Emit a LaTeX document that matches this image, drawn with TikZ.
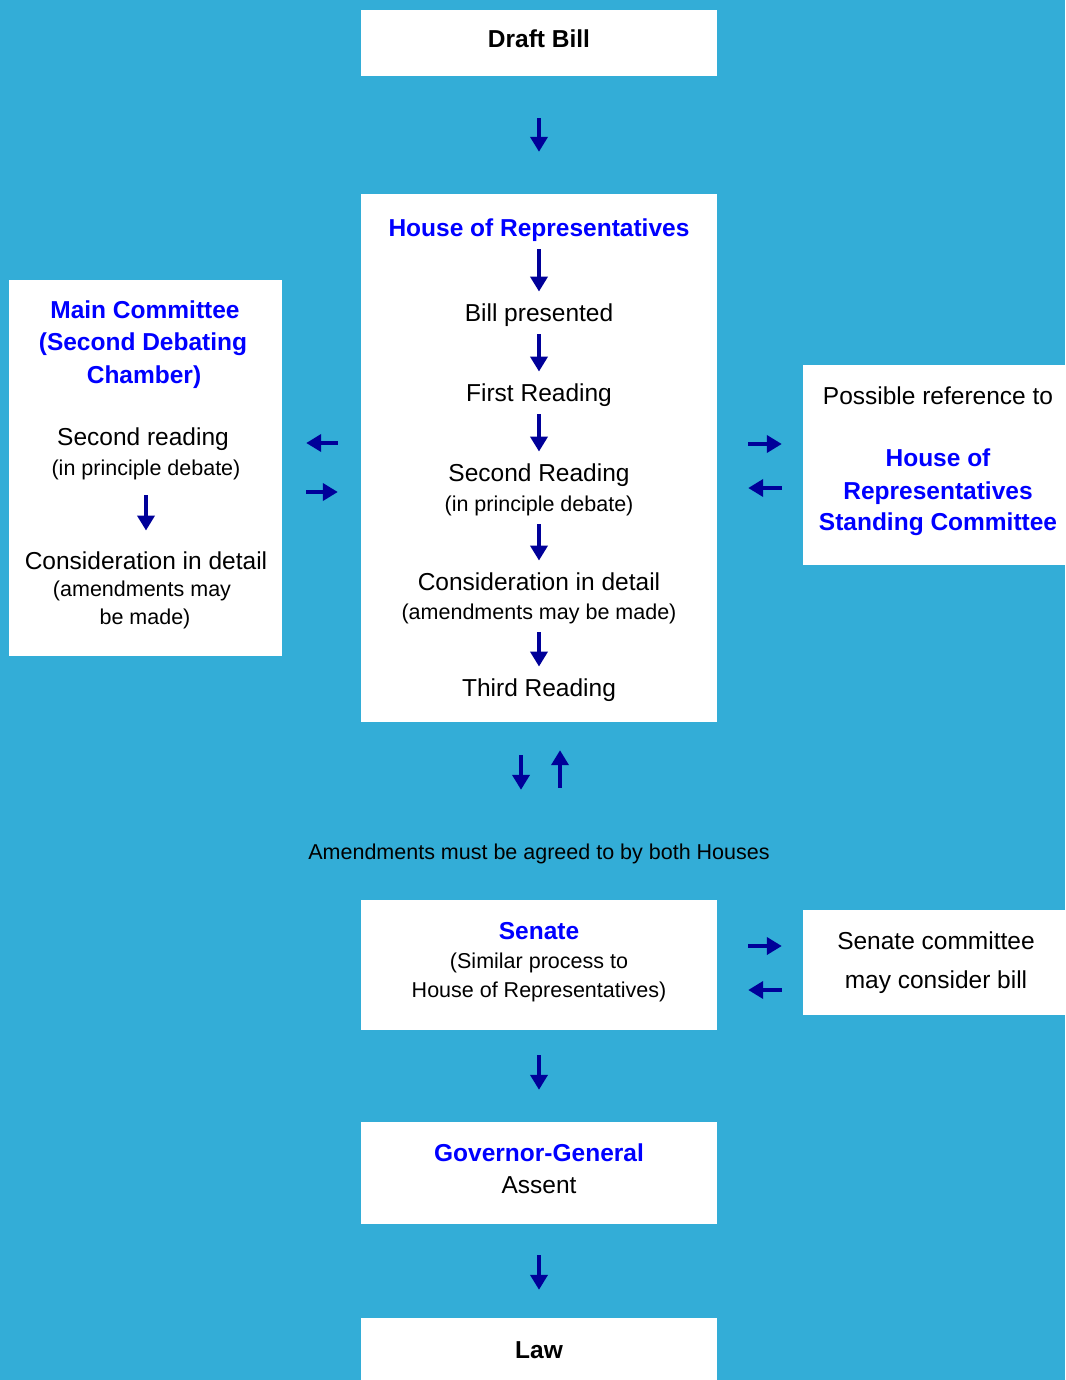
\documentclass[tikz,border=0pt]{standalone}
\usepackage{fontspec}
\setmainfont{Liberation Sans}
\usetikzlibrary{arrows.meta}
\definecolor{skyback}{RGB}{51,173,215}
\definecolor{headblue}{RGB}{0,0,255}
\definecolor{arrowblue}{RGB}{0,0,153}
\tikzset{
    box/.style={fill=white, inner sep=0pt},
    txt/.style={inner sep=0pt, text height=20pt, text depth=2.5pt, font=\fontsize{24.5}{28}\selectfont},
    sub/.style={txt, text height=17.5pt, text depth=2.2pt, font=\fontsize{21.5}{25}\selectfont},
    title/.style={txt, font=\fontsize{24.5}{28}\selectfont\bfseries},
    head/.style={title, text=headblue},
    flow/.style={arrowblue, line width=4.5pt, -{Triangle[width=17pt,length=15pt]}},
}

\begin{document}
\begin{tikzpicture}[x=1pt, y=-1pt]
    \useasboundingbox (0,0) rectangle (1065,1380);
    \fill[skyback] (0,0) rectangle (1065,1380);

    % boxes
    \node[box, minimum width=356pt, minimum height=66pt] (draftbox) at (539,43) {};
    \node[box, minimum width=356pt, minimum height=528pt] (horbox) at (539,458) {};
    \node[box, minimum width=273pt, minimum height=376pt] (mainbox) at (145.5,468) {};
    \node[box, minimum width=262pt, minimum height=200pt] (refbox) at (934,465) {};
    \node[box, minimum width=356pt, minimum height=130pt] (senbox) at (539,965) {};
    \node[box, minimum width=262pt, minimum height=105pt] (sencombox) at (934,962.5) {};
    \node[box, minimum width=356pt, minimum height=102pt] (ggbox) at (539,1173) {};
    \node[box, minimum width=356pt, minimum height=62pt] (lawbox) at (539,1349) {};

    \node[title] (draft) at (539,39) {Draft Bill};

    \node[head] (hor) at (539,228) {House of Representatives};
    \node[txt] (presented) at (539,313) {Bill presented};
    \node[txt] (first) at (539,393) {First Reading};
    \node[txt] (second) at (539,473) {Second Reading};
    \node[sub] (secondsub) at (539,504) {(in principle debate)};
    \node[txt] (detail) at (539,582) {Consideration in detail};
    \node[sub] (detailsub) at (539,612) {(amendments may be made)};
    \node[txt] (third) at (539,688) {Third Reading};

    \node[head] (main) at (145,310) {Main Committee};
    \node[head] (mainsecond) at (143,342) {(Second Debating};
    \node[head] (chamber) at (144,375) {Chamber)};
    \node[txt] (mainread) at (143,437) {Second reading};
    \node[sub] (mainreadsub) at (146,468) {(in principle debate)};
    \node[txt] (maindetail) at (146,561) {Consideration in detail};
    \node[sub] (maindetailsub) at (142,589) {(amendments may};
    \node[sub] (mainmade) at (145,617) {be made)};

    \node[txt] (possible) at (938,396) {Possible reference to};
    \node[head] (refhouse) at (938,458) {House of};
    \node[head] (refreps) at (938,491) {Representatives};
    \node[head] (standing) at (938,522) {Standing Committee};

    \node[sub] (agree) at (539,852) {Amendments must be agreed to by both Houses};

    \node[head] (senate) at (539,931) {Senate};
    \node[sub] (similar) at (539,961) {(Similar process to};
    \node[sub] (similarhor) at (539,990) {House of Representatives)};

    \node[txt] (sencom) at (936,941) {Senate committee};
    \node[txt] (mayconsider) at (936,980) {may consider bill};

    \node[head] (gg) at (539,1153) {Governor-General};
    \node[txt] (assent) at (539,1185) {Assent};

    \node[title] (law) at (539,1350) {Law};

    % flow arrows
    \draw[flow, shorten <=42pt, shorten >=42pt] (draftbox) -- (horbox);
    \foreach \a/\b in {hor/presented, presented/first, first/second, secondsub/detail, detailsub/third}
        \draw[flow, shorten <=10pt, shorten >=10pt] (\a) -- (\b);
    \draw[flow, shorten <=17pt, shorten >=19pt] (mainreadsub) -- (maindetail);

    \draw[flow, shorten <=23pt, shorten >=24pt] ([yshift=15pt]horbox.west) -- ([yshift=25pt]mainbox.east);
    \draw[flow, shorten <=24pt, shorten >=23pt] ([yshift=-24pt]mainbox.east) -- ([yshift=-34pt]horbox.west);
    \draw[flow, shorten <=31pt, shorten >=21pt] ([yshift=14pt]horbox.east) -- ([yshift=21pt]refbox.west);
    \draw[flow, shorten <=21pt, shorten >=31pt] ([yshift=-23pt]refbox.west) -- ([yshift=-30pt]horbox.east);

    \draw[flow, shorten <=33pt, shorten >=110pt] ([xshift=-18pt]horbox.south) -- ([xshift=-18pt]senbox.north);
    \draw[flow, shorten <=112pt, shorten >=28pt] ([xshift=21pt]senbox.north) -- ([xshift=21pt]horbox.south);

    \draw[flow, shorten <=31pt, shorten >=21pt] ([yshift=19pt]senbox.east) -- ([yshift=16.5pt]sencombox.west);
    \draw[flow, shorten <=21pt, shorten >=31pt] ([yshift=-27.5pt]sencombox.west) -- ([yshift=-25pt]senbox.east);

    \draw[flow, shorten <=25pt, shorten >=32pt] (senbox) -- (ggbox);
    \draw[flow, shorten <=31pt, shorten >=28pt] (ggbox) -- (lawbox);
\end{tikzpicture}
\end{document}
